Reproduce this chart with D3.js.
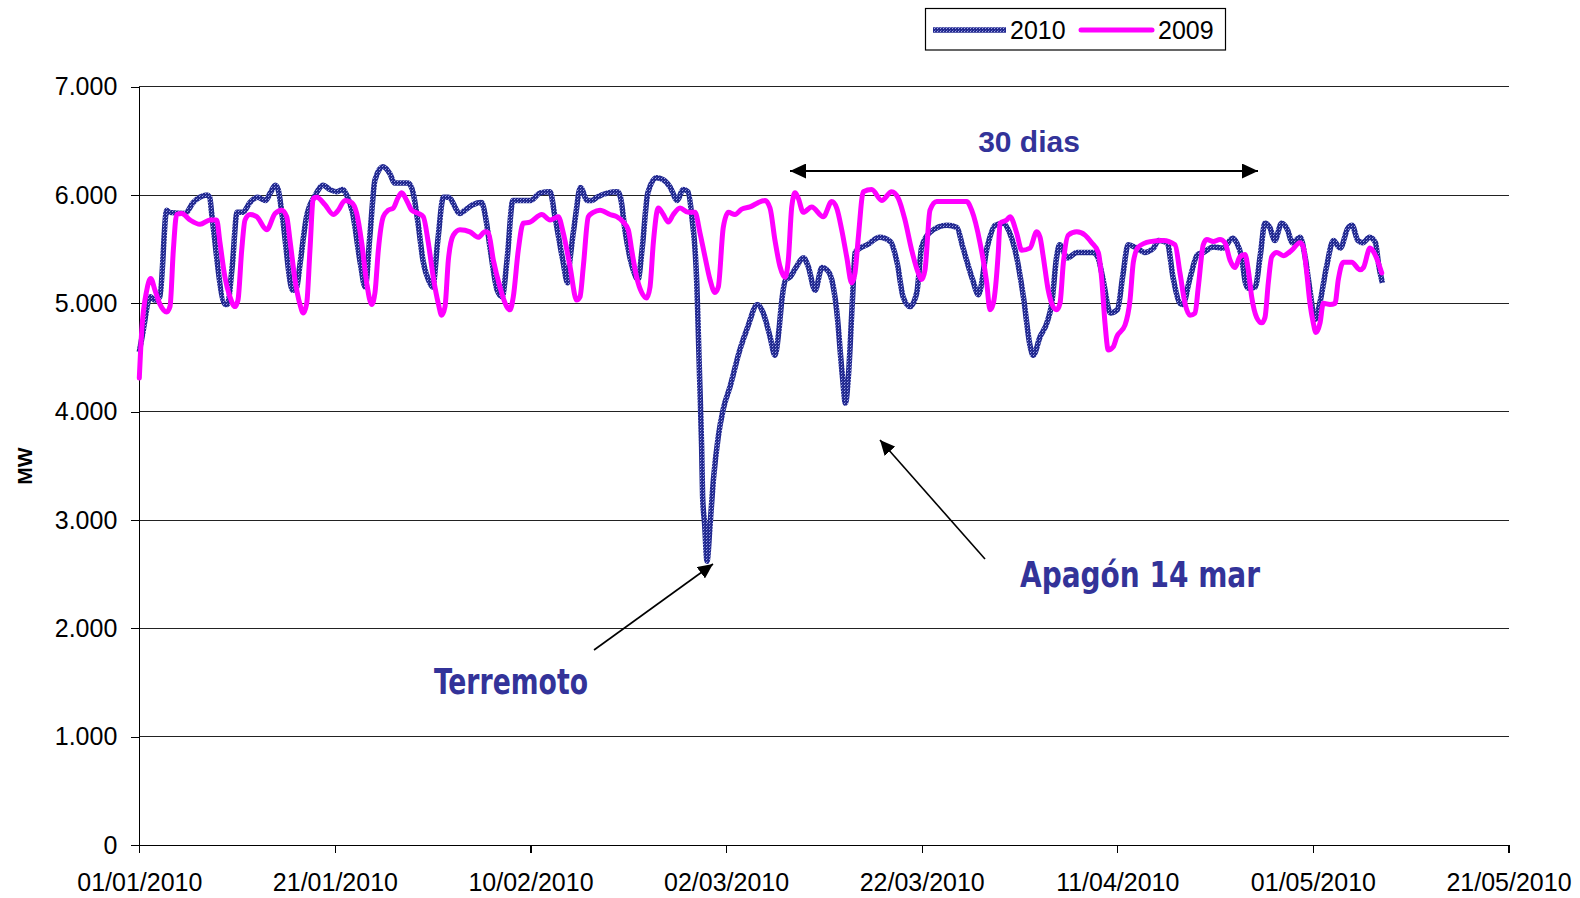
<!DOCTYPE html>
<html><head><meta charset="utf-8">
<script src="https://cdn.jsdelivr.net/npm/d3@7"></script>
<style>
html,body{margin:0;padding:0;background:#fff;}
svg{display:block;}
</style></head>
<body>
<svg id="chart" width="1580" height="898"></svg>
<script>
// ---- data (days after 01/01/2010, MW) ----
const seriesNames = ["2010", "2009"];
const days2010 = [
0,0.4,1.1,1.6,2.1,2.8,3.1,4.7,5.5,6.2,
6.9,7.2,7.4,8.8,9.0,9.5,10.0,10.6,11.3,12.1,
12.9,13.4,13.9,14.2,14.6,15.7,16.1,16.4,17.1,18.0,
18.8,19.5,20.2,20.8,21.2,21.8,22.6,23.1,23.6,24.1,
24.9,25.6,26.1,27.5,28.0,28.5,29.0,29.7,30.0,30.5,
31.1,31.6,32.8,33.3,34.1,35.0,35.4,35.9,36.6,37.1,
37.6,38.2,40.0,41.0,42.0,42.5,43.3,43.8,44.0,44.6,
45.1,45.8,46.3,46.8,48.9,49.2,49.7,50.5,51.0,51.4,
52.0,52.9,53.6,54.3,55.0,55.6,56.1,56.5,57.0,57.1,
57.3,57.5,57.6,57.8,58.05,58.35,58.7,59.2,59.7,60.4,
61.4,62.2,63.2,63.8,64.5,65.0,65.4,65.7,66.1,66.5,
67.2,67.9,68.4,69.1,69.8,70.3,70.8,71.3,71.9,72.2,
72.5,72.9,73.2,73.7,74.4,75.7,76.8,77.5,78.1,78.8,
79.5,80.0,80.9,82.6,83.6,84.2,85.2,85.8,86.7,87.5,
88.3,89.0,89.7,90.4,91.1,91.4,92.1,92.8,93.3,93.8,
94.1,94.9,95.9,97.5,98.0,98.5,99.3,100.0,100.6,101.1,
102.0,102.8,103.7,104.2,105.1,105.7,106.4,106.7,107.4,108.2,
108.8,109.8,110.8,111.8,112.2,112.7,113.1,113.4,114.1,114.6,
115.1,115.6,116.1,116.8,117.4,117.9,118.7,119.2,119.7,120.2,
120.7,121.4,122.1,122.8,123.6,124.0,124.6,125.1,125.8,126.4,
126.7,127.1];
const mw2010 = [
4550,4750,5060,5030,5060,5860,5840,5830,5930,5980,
6000,5980,5830,4990,4990,5340,5840,5840,5930,5980,
5950,6020,6090,6050,5820,5120,5150,5340,5800,6000,
6090,6050,6030,6050,6000,5840,5370,5150,5650,6140,
6260,6200,6110,6110,6020,5740,5400,5190,5150,5560,
5980,5980,5830,5860,5910,5930,5800,5490,5120,5060,
5400,5950,5950,6020,6030,5800,5400,5190,5370,5800,
6070,5950,5950,5980,6030,5980,5650,5310,5220,5490,
6020,6160,6140,6070,5950,6050,6030,5800,5190,4910,
4290,3670,3210,2970,2620,2940,3370,3770,4020,4230,
4570,4780,4990,4910,4690,4520,4750,5030,5220,5240,
5340,5420,5340,5120,5330,5310,5220,4940,4320,4080,
4320,5000,5470,5510,5540,5610,5570,5370,5060,4970,
5100,5520,5660,5720,5700,5520,5220,5080,5520,5720,
5740,5650,5430,5060,4600,4520,4690,4820,5000,5430,
5540,5420,5470,5470,5430,5240,4910,4940,5280,5540,
5510,5470,5510,5580,5560,5240,5000,4990,5220,5450,
5470,5520,5510,5600,5560,5430,5190,5140,5150,5430,
5740,5700,5580,5740,5680,5560,5610,5430,5120,4850,
5000,5340,5580,5510,5700,5720,5580,5560,5610,5560,
5370,5190];
const days2009 = [
0,0.25,0.76,1.17,1.61,2.12,2.8,3.14,3.48,3.82,
4.34,5.18,6.21,7.23,7.91,8.25,8.76,9.27,9.79,10.09,
10.47,10.81,11.32,12.0,13.03,13.88,14.56,15.07,15.41,15.92,
16.43,16.77,17.12,17.45,17.79,18.14,18.99,19.84,20.35,21.03,
21.72,22.23,22.74,23.25,23.76,24.1,24.44,24.95,25.46,25.97,
26.48,26.83,27.34,27.85,28.53,29.04,29.55,30.06,30.57,30.92,
31.26,31.6,32.11,32.79,33.81,34.66,35.35,35.69,36.2,36.88,
37.57,37.9,38.24,38.75,39.26,39.95,41.15,42.0,42.84,43.35,
44.04,44.72,45.06,45.4,45.91,46.42,47.11,48.13,48.81,49.49,
50.0,50.35,50.86,51.37,51.88,52.22,52.56,53.07,53.58,54.09,
54.6,55.29,56.13,56.82,57.33,57.84,58.35,58.86,59.2,59.71,
60.23,60.91,61.6,62.44,63.29,63.98,64.49,65.0,65.51,66.02,
66.36,66.71,67.05,67.38,67.89,68.75,69.94,70.8,71.31,71.82,
72.33,72.84,73.18,73.52,74.03,74.89,75.91,76.93,77.61,78.29,
78.98,79.65,80.0,80.34,80.85,81.53,84.6,85.11,85.96,86.65,
86.98,87.32,87.83,88.01,88.69,89.03,89.71,90.23,91.07,91.76,
92.1,92.43,92.94,93.29,93.8,94.14,94.48,94.99,95.85,96.7,
97.38,98.06,98.41,98.74,99.08,99.59,99.94,100.79,101.3,101.64,
102.15,103.35,104.7,105.9,106.41,106.92,107.43,107.95,108.28,108.79,
109.14,109.82,110.5,111.01,111.52,112.03,112.54,113.06,113.39,113.74,
114.25,114.77,115.1,115.44,115.79,116.3,116.97,117.83,118.68,119.02,
119.37,119.7,120.04,120.31,120.73,121.06,121.75,122.26,122.6,123.11,
123.97,124.82,125.16,125.84,126.35,127.04];
const mw2009 = [
4310,4750,5120,5230,5120,4990,4920,4970,5490,5820,
5830,5770,5730,5770,5770,5560,5240,5060,4970,5030,
5490,5770,5820,5800,5680,5830,5860,5800,5580,5220,
4990,4910,5000,5490,5970,5980,5910,5820,5860,5950,
5930,5830,5560,5190,4990,5100,5490,5800,5860,5880,
5980,6020,5950,5860,5830,5800,5560,5240,5000,4890,
4970,5400,5630,5680,5660,5610,5660,5650,5400,5150,
4970,4940,5060,5490,5740,5750,5820,5770,5800,5650,
5340,5030,5060,5340,5800,5840,5860,5820,5800,5750,
5680,5490,5240,5100,5050,5150,5560,5880,5820,5750,
5820,5880,5840,5840,5650,5430,5220,5100,5150,5700,
5840,5820,5870,5890,5930,5950,5880,5580,5340,5240,
5400,5890,6020,5970,5840,5890,5800,5940,5880,5680,
5430,5190,5280,5610,6030,6050,5950,6030,5970,5770,
5490,5280,5220,5310,5860,5940,5940,5860,5560,5190,
4940,5000,5470,5740,5770,5800,5650,5490,5510,5660,
5610,5430,5120,5000,4940,5000,5370,5630,5660,5630,
5560,5470,5220,4820,4570,4600,4690,4800,5030,5380,
5520,5570,5580,5540,5280,5000,4890,4910,5150,5540,
5590,5570,5590,5560,5400,5330,5430,5450,5310,5060,
4870,4820,4870,5190,5430,5470,5440,5490,5560,5520,
5280,5000,4820,4730,4820,5000,4990,5000,5220,5380,
5380,5310,5330,5510,5450,5280];
const xTickLabels = ["01/01/2010","21/01/2010","10/02/2010","02/03/2010","22/03/2010","11/04/2010","01/05/2010","21/05/2010"];
const yTicks = [0,1000,2000,3000,4000,5000,6000,7000];
const yTickLabels = ["0","1.000","2.000","3.000","4.000","5.000","6.000","7.000"];

// ---- setup ----
const svg = d3.select("#chart");
const L = 139.3, R = 1508.5, T = 86.7, B = 845;
const parse = d3.utcParse("%d/%m/%Y");
const t0 = parse(xTickLabels[0]);
const toDate = d => new Date(t0.getTime() + d * 864e5);
const xTicks = xTickLabels.map(parse);
const x = d3.scaleUtc().domain([xTicks[0], xTicks[xTicks.length-1]]).range([L, R]);
const y = d3.scaleLinear().domain([0, 7000]).range([B, T]);
const FONT = "'Liberation Sans', Arial, Helvetica, sans-serif";
const NARROW = "'Liberation Sans Narrow', 'DejaVu Sans Condensed', 'Liberation Sans', Arial, sans-serif";

const defs = svg.append("defs");
const pat = defs.append("pattern").attr("id","tex").attr("width",3).attr("height",3).attr("patternUnits","userSpaceOnUse");
pat.append("rect").attr("width",3).attr("height",3).attr("fill","#232a90");
pat.append("rect").attr("x",1).attr("y",1).attr("width",1).attr("height",1).attr("fill","#a4a9e8");
pat.append("rect").attr("x",2).attr("y",0).attr("width",1).attr("height",1).attr("fill","#5c62bc");
function marker(id, len, hw){
  defs.append("marker").attr("id",id).attr("markerUnits","userSpaceOnUse")
    .attr("viewBox",`0 ${-hw} ${len} ${2*hw}`).attr("markerWidth",len).attr("markerHeight",2*hw)
    .attr("refX",len).attr("refY",0).attr("orient","auto-start-reverse")
    .append("path").attr("d",`M0,${-hw}L${len},0L0,${hw}Z`).attr("fill","#000");
}
marker("arr", 15, 7);
marker("arr2", 16, 7.5);

// gridlines
svg.append("g").selectAll("line").data(yTicks.slice(1)).join("line")
  .attr("x1", L).attr("x2", R).attr("y1", d => y(d)).attr("y2", d => y(d))
  .attr("stroke", "#222").attr("stroke-width", 1).attr("shape-rendering","crispEdges");

// axes
const xAxis = svg.append("g").attr("transform", `translate(0,${B})`)
  .call(d3.axisBottom(x).tickValues(xTicks).tickFormat(d3.utcFormat("%d/%m/%Y")).tickSize(8).tickSizeOuter(0).tickPadding(20));
const yAxis = svg.append("g").attr("transform", `translate(${L},0)`)
  .call(d3.axisLeft(y).tickValues(yTicks).tickFormat((d,i) => yTickLabels[i]).tickSize(8).tickSizeOuter(0).tickPadding(14));
[xAxis, yAxis].forEach(g => {
  g.selectAll("text").attr("font-family", FONT).attr("font-size", 25).attr("fill", "#000");
  g.selectAll("line,path").attr("stroke", "#000").attr("stroke-width", 1.2).attr("shape-rendering","crispEdges");
});

// y title
svg.append("text").attr("transform", "translate(32,466) rotate(-90)").attr("text-anchor","middle")
  .attr("font-family", FONT).attr("font-weight","bold").attr("font-size", 21).text("MW");

// lines
const line = d3.line().x(d => x(toDate(d[0]))).y(d => y(d[1])).curve(d3.curveMonotoneX);
const data2010 = days2010.map((d,i) => [d, mw2010[i]]);
const data2009 = days2009.map((d,i) => [d, mw2009[i]]);
svg.append("path").datum(data2010).attr("d", line).attr("fill","none")
  .attr("stroke","url(#tex)").attr("stroke-width",5.5).attr("stroke-linejoin","round");
svg.append("path").datum(data2009).attr("d", line).attr("fill","none")
  .attr("stroke","#ff00ff").attr("stroke-width",5).attr("stroke-linejoin","round").attr("stroke-linecap","round");

// legend
const lg = svg.append("g");
lg.append("rect").attr("x",925.5).attr("y",8.5).attr("width",300).attr("height",41.5)
  .attr("fill","#fff").attr("stroke","#000").attr("stroke-width",1.2);
lg.append("line").attr("x1",933).attr("x2",1006).attr("y1",30).attr("y2",30).attr("stroke","url(#tex)").attr("stroke-width",5.5);
lg.append("text").attr("x",1010).attr("y",38.5).attr("font-family",FONT).attr("font-size",25).text(seriesNames[0]);
lg.append("line").attr("x1",1081).attr("x2",1152).attr("y1",30).attr("y2",30).attr("stroke","#ff00ff").attr("stroke-width",5).attr("stroke-linecap","round");
lg.append("text").attr("x",1158).attr("y",38.5).attr("font-family",FONT).attr("font-size",25).text(seriesNames[1]);

// annotations
const NAVY = "#333399";
svg.append("line").attr("x1",790).attr("x2",1258).attr("y1",171).attr("y2",171)
  .attr("stroke","#000").attr("stroke-width",2).attr("marker-start","url(#arr2)").attr("marker-end","url(#arr2)");
svg.append("text").attr("x",1029).attr("y",152).attr("text-anchor","middle").attr("font-family",FONT)
  .attr("font-weight","bold").attr("font-size",30).attr("fill",NAVY).text("30 dias");

svg.append("line").attr("x1",594).attr("y1",650).attr("x2",713).attr("y2",564)
  .attr("stroke","#000").attr("stroke-width",1.6).attr("marker-end","url(#arr)");
svg.append("text").attr("x",434).attr("y",694).attr("font-family",NARROW).attr("font-weight","bold")
  .attr("font-size",36).attr("fill",NAVY).attr("textLength",154).attr("lengthAdjust","spacingAndGlyphs").text("Terremoto");

svg.append("line").attr("x1",985).attr("y1",559).attr("x2",880).attr("y2",440)
  .attr("stroke","#000").attr("stroke-width",1.6).attr("marker-end","url(#arr)");
svg.append("text").attr("x",1020).attr("y",587).attr("font-family",NARROW).attr("font-weight","bold")
  .attr("font-size",36).attr("fill",NAVY).attr("textLength",240).attr("lengthAdjust","spacingAndGlyphs").text("Apagón 14 mar");
</script>
</body></html>
